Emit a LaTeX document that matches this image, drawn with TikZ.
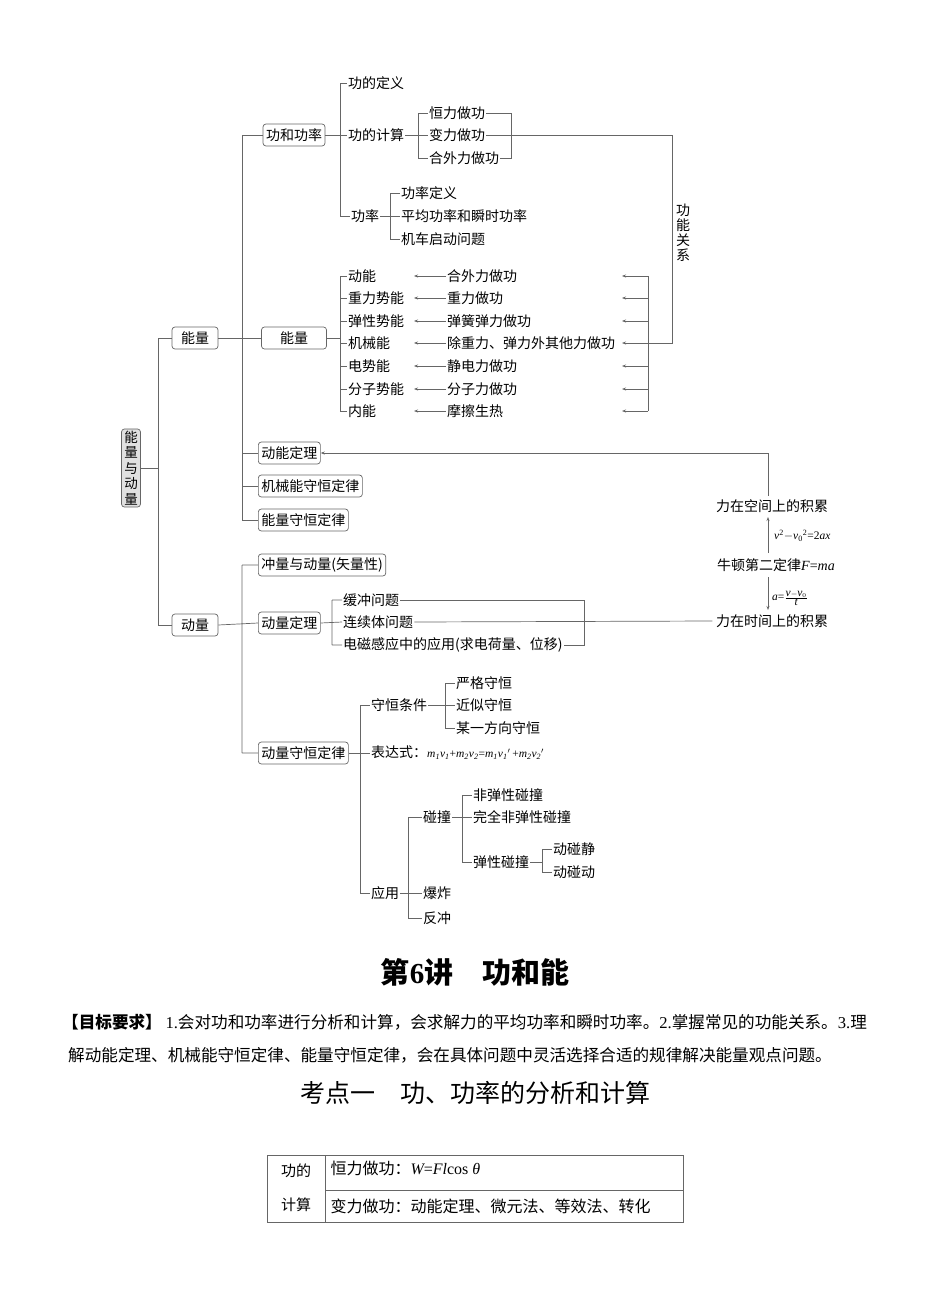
\documentclass[tikz,border=0pt]{standalone}
\usepackage{fontspec}
\setmainfont{Noto Sans CJK SC}
\newfontfamily\ser{Liberation Serif}
\usetikzlibrary{arrows.meta}
\begin{document}
\begin{tikzpicture}[x=1pt,y=-1pt,
  ln/.style={draw=black!60,line width=0.7pt},
  ar/.style={ln,-{Stealth[length=4pt,width=3pt]}},
  bx/.style={draw=black!60,rounded corners=3pt,inner sep=3pt,minimum height=22pt,font=\fontsize{14}{15}\selectfont,line width=0.7pt},
  lb/.style={anchor=west,inner sep=1pt,font=\fontsize{14}{15}\selectfont},
  fm/.style={font=\ser\itshape\fontsize{11.5}{12}\selectfont,inner sep=1pt}]
\useasboundingbox (0,0) rectangle (950,1290);
% root
\node[bx,fill=black!12,text width=15pt,align=center,inner sep=2pt,font=\fontsize{13.5}{15.5}\selectfont] (root) at (131,468) {能\\量\\与\\动\\量};
\node[bx,minimum width=46pt] (nl) at (195,338) {能量};
\node[bx,minimum width=46pt] (dl) at (195,625) {动量};
\draw[ln] (root.east) -- (158,468) (158,339) |- (nl.west) (158,339) |- (dl.west);
\draw[ln] (158,339) -- (158,625);
% energy level 2
\node[bx] (gh) at (294,135) {功和功率};
\node[bx,minimum width=65pt] (nl2) at (294,338) {能量};
\node[bx,anchor=west] (dnd) at (258,453) {动能定理};
\node[bx,anchor=west] (jx) at (258,486) {机械能守恒定律};
\node[bx,anchor=west] (nsh) at (258,520) {能量守恒定律};
\draw[ln] (nl.east) -- (nl2.west);
\draw[ln] (242,135) -- (242,520);
\draw[ln] (242,135) -- (gh.west) (242,453) -- (dnd.west) (242,486) -- (jx.west) (242,520) -- (nsh.west);
% 功和功率
\node[lb] (gd) at (347,83) {功的定义};
\node[lb] (gj) at (347,135) {功的计算};
\node[lb] (gl) at (350,216) {功率};
\draw[ln] (gh.east) -- (gj.west) (340,83) -- (340,216) (340,83) -- (gd.west) (340,216) -- (gl.west);
\node[lb] (h1) at (428,113) {恒力做功};
\node[lb] (h2) at (428,135) {变力做功};
\node[lb] (h3) at (428,158) {合外力做功};
\draw[ln] (gj.east) -- (h2.west) (418,113) -- (418,158) (418,113) -- (h1.west) (418,158) -- (h3.west);
\draw[ln] (h1.east) -- (511,113) -- (511,158) -- (h3.east) (h2.east) -- (511,135);
\node[lb] (p1) at (400,193) {功率定义};
\node[lb] (p2) at (400,216) {平均功率和瞬时功率};
\node[lb] (p3) at (400,239) {机车启动问题};
\draw[ln] (gl.east) -- (p2.west) (390,193) -- (390,239) (390,193) -- (p1.west) (390,239) -- (p3.west);
% 能量 rows
\foreach \y/\a/\b [count=\i] in {276/动能/合外力做功,298/重力势能/重力做功,321/弹性势能/弹簧弹力做功,343/机械能/除重力、弹力外其他力做功,366/电势能/静电力做功,389/分子势能/分子力做功,411/内能/摩擦生热}{
  \node[lb] (L\i) at (347,\y) {\a};
  \node[lb] (R\i) at (446,\y) {\b};
  \draw[ar] (R\i.west) -- (414,\y);
  \draw[ar] (648,\y) -- (622,\y);
  \draw[ln] (340,\y) -- (L\i.west);
}
\draw[ln] (nl2.east) -- (340,338) (340,276) -- (340,411) (648,276) -- (648,411);
\coordinate (top) at (511,135);
\draw[ln] (top) -- (672,135) -- (672,343) -- (648,343);
\node[font=\fontsize{14}{15}\selectfont,text width=15pt,align=center,fill=white,inner sep=1pt] (gngx) at (683,233) {功\\能\\关\\系};
% right column
\node (kj) at (772,506) {\fontsize{14}{15}\selectfont 力在空间上的积累};
\node (nd) at (776,565) {\fontsize{14}{15}\selectfont 牛顿第二定律{\ser\itshape F}{\ser =}{\ser\itshape ma}};
\node (sj) at (772,621) {\fontsize{14}{15}\selectfont 力在时间上的积累};
\draw[ar] (768,553) -- (768,517);
\draw[ar] (768,577) -- (768,610);
\node[fm,anchor=west] (f1) at (773,536) {v{\upshape\textsuperscript{2}}$-$v{\upshape\textsubscript{0}\textsuperscript{2}}{\upshape =2}ax};
\node[fm,anchor=west] (f2) at (771,598) {a{\upshape =}$\frac{\textit{v}-\textit{v}_0}{\textit{t}}$};
\draw[ar] (kj.north -| 768,0) -- (768,453) -- (dnd.east);
% 动量
\node[bx,anchor=west] (cl) at (258,565) {冲量与动量(矢量性)};
\node[bx,anchor=west] (dld) at (258,623) {动量定理};
\node[bx,anchor=west] (dls) at (258,753) {动量守恒定律};
\draw[ln] (dl.east) -- (dld.west) (242,565) -- (242,753) (242,565) -- (cl.west) (242,753) -- (dls.west);
\node[lb] (c1) at (342,600) {缓冲问题};
\node[lb] (c2) at (342,622) {连续体问题};
\node[lb] (c3) at (342,645) {电磁感应中的应用(求电荷量、位移)};
\draw[ln] (dld.east) -- (c2.west) (332,600) -- (332,645) (332,600) -- (c1.west) (332,645) -- (c3.west);
\draw[ln] (c1.east) -- (584,600) -- (584,645) -- (c3.east);
\draw[ln] (c2.east) -- (sj.west);
% 动量守恒
\node[lb] (sh) at (370,705) {守恒条件};
\node[lb] (bd) at (370,753) {表达式：{\ser\itshape\fontsize{11.5}{12}\selectfont m\textsubscript{1}v\textsubscript{1}{\upshape +}m\textsubscript{2}v\textsubscript{2}{\upshape =}m\textsubscript{1}v\textsubscript{1}$'$\,{\upshape +}m\textsubscript{2}v\textsubscript{2}$'$}};
\node[lb] (yy) at (370,893) {应用};
\draw[ln] (dls.east) -- (bd.west) (360,705) -- (360,893) (360,705) -- (sh.west) (360,893) -- (yy.west);
\node[lb] (s1) at (455,683) {严格守恒};
\node[lb] (s2) at (455,705) {近似守恒};
\node[lb] (s3) at (455,728) {某一方向守恒};
\draw[ln] (sh.east) -- (s2.west) (445,683) -- (445,728) (445,683) -- (s1.west) (445,728) -- (s3.west);
\node[lb] (pz) at (422,817) {碰撞};
\node[lb] (bz) at (422,893) {爆炸};
\node[lb] (fc) at (422,918) {反冲};
\draw[ln] (yy.east) -- (bz.west) (408,817) -- (408,918) (408,817) -- (pz.west) (408,918) -- (fc.west);
\node[lb] (q1) at (472,795) {非弹性碰撞};
\node[lb] (q2) at (472,817) {完全非弹性碰撞};
\node[lb] (q3) at (472,862) {弹性碰撞};
\draw[ln] (pz.east) -- (q2.west) (462,795) -- (462,862) (462,795) -- (q1.west) (462,862) -- (q3.west);
\node[lb] (t1) at (552,849) {动碰静};
\node[lb] (t2) at (552,872) {动碰动};
\draw[ln] (q3.east) -- (542,862) (542,849) -- (542,872) (542,849) -- (t1.west) (542,872) -- (t2.west);
% bottom text
\node[font=\fontsize{29}{32}\selectfont\bfseries] (title) at (475,972) {第{\ser 6}讲\quad 功和能};
\node[anchor=west,inner sep=0pt,font=\fontsize{16.6}{18}\selectfont] (goal1) at (62,1022) {\textbf{【目标要求】} {\ser 1.}会对功和功率进行分析和计算，会求解力的平均功率和瞬时功率。{\ser 2.}掌握常见的功能关系。{\ser 3.}理};
\node[anchor=west,inner sep=0pt,font=\fontsize{16.6}{18}\selectfont] (goal2) at (68,1055) {解动能定理、机械能守恒定律、能量守恒定律，会在具体问题中灵活选择合适的规律解决能量观点问题。};
\node[font=\fontsize{25}{28}\selectfont] (kd) at (475,1093) {考点一\quad 功、功率的分析和计算};
% table
\draw[black!60,line width=0.7pt] (267,1155) rectangle (683,1222) (325,1155) -- (325,1222) (325,1190) -- (683,1190);
\node[font=\fontsize{15}{30}\selectfont,align=center] (tc) at (296,1188) {功的\\[4pt]计算};
\node[anchor=west,font=\fontsize{16}{17}\selectfont] (r1) at (327,1168) {恒力做功：{\ser\itshape W}{\ser =}{\ser\itshape Fl}{\ser cos }{\ser\itshape θ}};
\node[anchor=west,font=\fontsize{16}{17}\selectfont] (r2) at (327,1206) {变力做功：动能定理、微元法、等效法、转化};
\end{tikzpicture}
\end{document}
